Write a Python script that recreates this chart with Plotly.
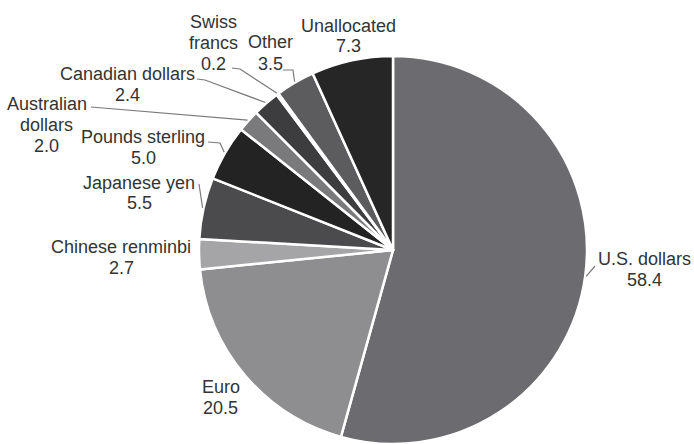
import math
import plotly.graph_objects as go

# Currency composition of reserves (percent shares as labelled)
currencies = ["U.S. dollars", "Euro", "Chinese renminbi", "Japanese yen",
              "Pounds sterling", "Australian dollars", "Canadian dollars",
              "Swiss francs", "Other", "Unallocated"]
shares = [58.4, 20.5, 2.7, 5.5, 5.0, 2.0, 2.4, 0.2, 3.5, 7.3]
label_lines = [["U.S. dollars", "58.4"], ["Euro", "20.5"],
               ["Chinese renminbi", "2.7"], ["Japanese yen", "5.5"],
               ["Pounds sterling", "5.0"], ["Australian", "dollars", "2.0"],
               ["Canadian dollars", "2.4"], ["Swiss", "francs", "0.2"],
               ["Other", "3.5"], ["Unallocated", "7.3"]]
slice_colors = ["#6c6c70", "#8e8e90", "#a5a5a7", "#4b4b4d", "#232323",
                "#7a7a7c", "#3d3d3f", "#9a9a9a", "#5c5c5e", "#262626"]

W, H = 694, 444
CX, CY, R = 393, 250, 194          # pie centre / radius in pixels
LINE_STEP = 21                      # text line spacing in pixels

# label block centres (pixels)
label_pos = {
    "U.S. dollars": (644, 269), "Euro": (221, 397),
    "Chinese renminbi": (121, 257), "Japanese yen": (139, 193),
    "Pounds sterling": (143, 147), "Australian dollars": (47, 125),
    "Canadian dollars": (128, 84), "Swiss francs": (213, 43),
    "Other": (270, 53), "Unallocated": (348, 36),
}
# leader polylines from label side; the last point is added at the slice rim
leader_start = {
    "U.S. dollars": [(595, 266)],
    "Japanese yen": [(199, 184)],
    "Pounds sterling": [(208, 142), (220, 143)],
    "Australian dollars": [(91, 107)],
    "Canadian dollars": [(197, 79), (205, 80)],
    "Swiss francs": [(232, 68), (240, 69)],
    "Other": [(283, 70), (293, 70)],
}

def px(x):
    return x / W

def py(y):
    return 1 - y / H

fig = go.Figure(go.Pie(
    labels=currencies, values=shares, sort=False, direction="clockwise",
    rotation=0, textinfo="none", hoverinfo="label+value",
    marker=dict(colors=slice_colors, line=dict(color="white", width=2.5)),
    domain=dict(x=[px(CX - R), px(CX + R)], y=[py(CY + R), py(CY - R)]),
    showlegend=False,
))

total = sum(shares)
cum = 0.0
annotations, shapes = [], []
for name, val, lines in zip(currencies, shares, label_lines):
    mid = (cum + val / 2) / total * 2 * math.pi
    cum += val
    ex = CX + (R + 1) * math.sin(mid)
    ey = CY - (R + 1) * math.cos(mid)
    lx, ly = label_pos[name]
    n = len(lines)
    for i, t in enumerate(lines):
        yy = ly + (i - (n - 1) / 2) * LINE_STEP
        annotations.append(dict(
            x=px(lx), y=py(yy), xref="paper", yref="paper", text=t,
            showarrow=False, xanchor="center", yanchor="middle",
            font=dict(family="Liberation Sans, Arial, sans-serif",
                      size=18, color="#333333")))
    if name in leader_start:
        pts = leader_start[name] + [(ex, ey)]
        path = "M " + " L ".join(f"{px(x)},{py(y)}" for x, y in pts)
        shapes.append(dict(type="path", xref="paper", yref="paper", path=path,
                           line=dict(color="#7a7a7a", width=1.2)))

fig.update_layout(
    width=W, height=H, margin=dict(l=0, r=0, t=0, b=0),
    paper_bgcolor="white", plot_bgcolor="white",
    annotations=annotations, shapes=shapes,
)

fig.write_html("out.html")
